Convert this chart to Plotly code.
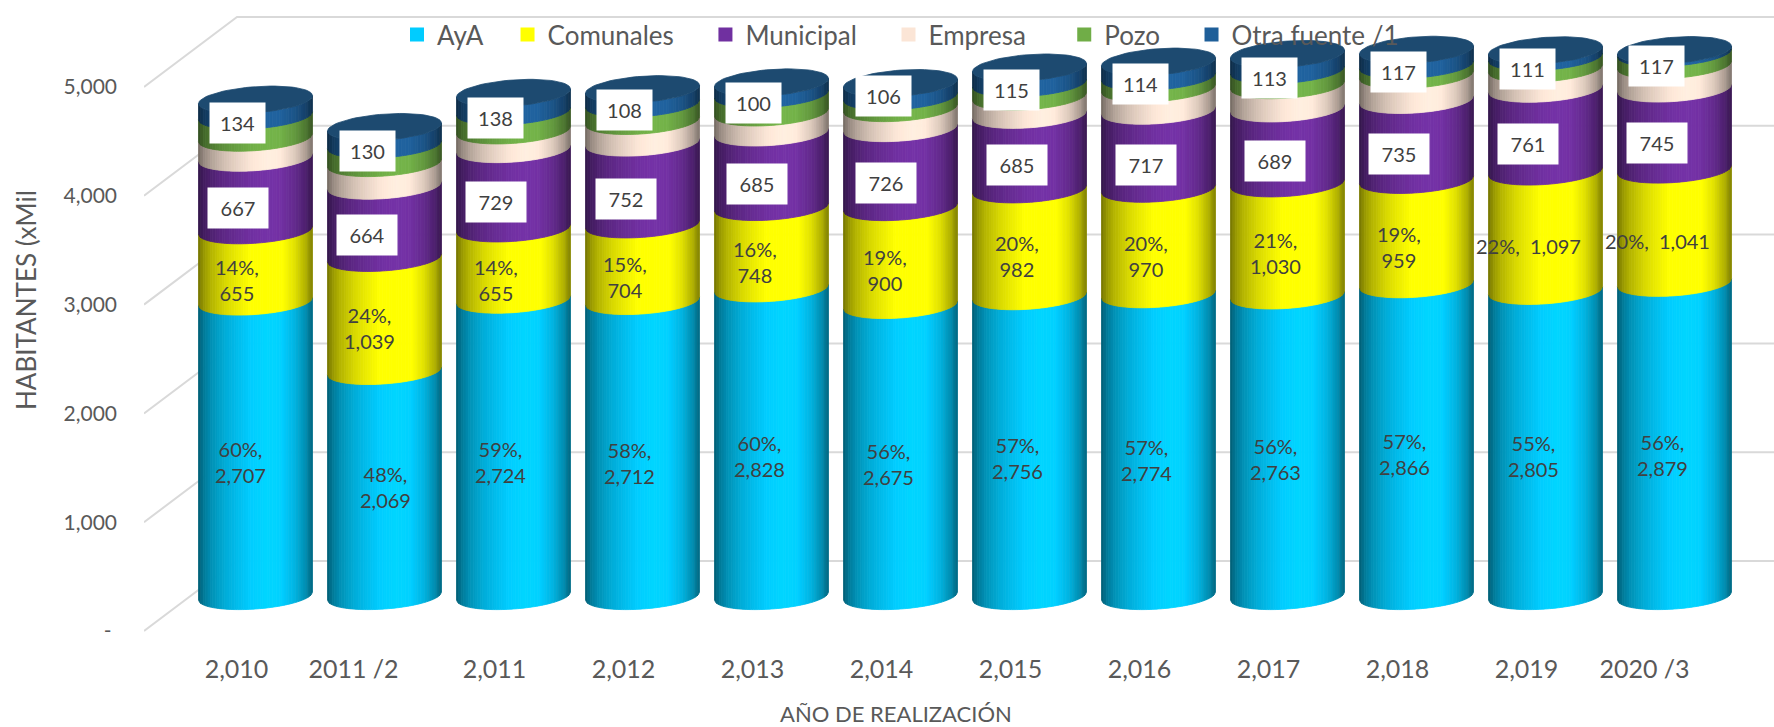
import numpy as np
import plotly.graph_objects as go

categories = ["2,010", "2011 /2", "2,011", "2,012", "2,013", "2,014", "2,015", "2,016", "2,017", "2,018", "2,019", "2020 /3"]
aya = [2707, 2069, 2724, 2712, 2828, 2675, 2756, 2774, 2763, 2866, 2805, 2879]
comunales = [655, 1039, 655, 704, 748, 900, 982, 970, 1030, 959, 1097, 1041]
municipal = [667, 664, 729, 752, 685, 726, 685, 717, 689, 735, 761, 745]
empresa = [184, 208, 172, 199, 184, 184, 168, 205, 214, 230, 184, 214]
pozo = [202, 168, 175, 159, 168, 107, 122, 107, 138, 92, 107, 113]
otra = [147, 162, 169, 132, 107, 122, 144, 138, 147, 138, 61, 25]
pct_aya = [60, 48, 59, 58, 60, 56, 57, 57, 56, 57, 55, 56]
pct_comunales = [14, 24, 14, 15, 16, 19, 20, 20, 21, 19, 22, 20]
pozo_labels = [134, 130, 138, 108, 100, 106, 115, 114, 113, 117, 111, 117]
y_ticks = [0, 1000, 2000, 3000, 4000, 5000]

series = [("AyA", aya, "#00CCFF"), ("Comunales", comunales, "#FFFF00"), ("Municipal", municipal, "#7030A0"),
          ("Empresa", empresa, "#FBE5D6"), ("Pozo", pozo, "#70AD47"), ("Otra fuente /1", otra, "#1F5F99")]
legend_names = ["AyA" + "\u00a0" * 3, "Comunales" + "\u00a0" * 4, "Municipal" + "\u00a0" * 4,
                "Empresa" + "\u00a0" * 5, "Pozo" + "\u00a0" * 4, "Otra fuente /1"]

# page geometry
W, H = 1774, 727
PL, PT, PB = 144, 0, 640           # plot rectangle in page pixels
X0, DX = 255.5, 129.0              # first bar centre, bar spacing
Y0, DY = 631.0, 0.1088             # value 0 on the front edge, pixels per unit
BAR_HALF = 57.0
ELL_B, ELL_S = 13.0, 4.0           # ellipse half height and tilt
DEPTH_X, DEPTH_Y = 93.0, 70.0      # front-to-back shift of the walls
BAR_LIFT = 35.0 / DY               # bars stand half way back
NSTRIP = 48

def px_x(p): return (p - X0) / DX
def px_y(p): return (Y0 - p) / DY
def paper_x(p): return (p - PL) / (W - PL)
def paper_y(p): return 1 - (p - PT) / (PB - PT)

SHADE_U = [0, .05, .12, .25, .45, .6, .72, .85, .95, 1]
SHADE_V = [.45, .60, .72, .86, 1.0, 1.05, 1.03, .88, .68, .50]

def shade(color, u):
    f = np.interp(u, SHADE_U, SHADE_V)
    r, g, b = int(color[1:3], 16), int(color[3:5], 16), int(color[5:7], 16)
    return "rgb(%d,%d,%d)" % (min(255, r * f), min(255, g * f), min(255, b * f))

def front(s):
    return (ELL_S * s - ELL_B * np.sqrt(np.clip(1 - s * s, 0, 1))) / DY

fig = go.Figure()

# back wall and floor lines
gx, gy = [], []
for v in y_ticks:
    gx += [px_x(PL), px_x(PL + DEPTH_X), px_x(W), None]
    gy += [v, v + DEPTH_Y / DY, v + DEPTH_Y / DY, None]
fig.add_trace(go.Scatter(x=gx, y=gy, mode="lines", line=dict(color="#D9D9D9", width=2),
                         hoverinfo="skip", showlegend=False))

# cylinders: each series is drawn as vertical strips sharing one shade
edges = np.linspace(-1, 1, NSTRIP + 1)
cum = np.zeros(len(categories))
for name, values, color in series:
    top = cum + np.array(values, dtype=float)
    for k in range(NSTRIP):
        s = np.linspace(edges[k], edges[k + 1], 3)
        xs, ys = [], []
        for i in range(len(categories)):
            xx = i + s * BAR_HALF / DX
            yu = BAR_LIFT + top[i] + front(s)
            yl = BAR_LIFT + cum[i] + front(s)
            xs += list(xx) + list(xx[::-1]) + [xx[0], None]
            ys += list(yu) + list(yl[::-1]) + [yu[0], None]
        c = shade(color, (k + .5) / NSTRIP)
        fig.add_trace(go.Scatter(x=xs, y=ys, mode="lines", fill="toself", fillcolor=c,
                                 line=dict(color=c, width=0.8), hoverinfo="skip", showlegend=False))
    cum = top

# top caps
t = np.linspace(0, 2 * np.pi, 73)
cx, cy = [], []
for i in range(len(categories)):
    cx += list(i + np.cos(t) * BAR_HALF / DX) + [None]
    cy += list(BAR_LIFT + cum[i] + (ELL_S * np.cos(t) + ELL_B * np.sin(t)) / DY) + [None]
fig.add_trace(go.Scatter(x=cx, y=cy, mode="lines", fill="toself", fillcolor="#1D4A70",
                         line=dict(color="#1D4A70", width=0.8), hoverinfo="skip", showlegend=False))

# legend entries
for (name, values, color), lname in zip(series, legend_names):
    fig.add_trace(go.Scatter(x=[None], y=[None], mode="markers", name=lname,
                             marker=dict(symbol="square", size=16, color=color, line=dict(color=color, width=2))))

# data labels (page pixel centres, hand placed in the source chart)
aya_pos = [(240, 462), (385, 487), (500, 462), (629, 463), (759, 456), (888, 464),
           (1017, 458), (1146, 460), (1275, 459), (1404, 454), (1533, 456), (1662, 455)]
com_pos = [(237, 280), (369, 328), (496, 280), (625, 277), (755, 262), (885, 270),
           (1017, 256), (1146, 256), (1275, 253), (1399, 247), (1528, 246), (1657, 241)]
mun_pos = [(238, 208), (367, 235), (496, 202), (626, 199), (757, 184), (886, 183),
           (1017, 165), (1146, 165), (1275, 161), (1399, 154), (1528, 144), (1657, 143)]
poz_pos = [(237, 123), (367, 151), (495, 118), (624, 110), (753, 103), (883, 96),
           (1011, 90), (1140, 84), (1269, 78), (1398, 72), (1527, 69), (1656, 66)]
TXT = dict(family="Lato", size=20, color="#404040")
ann = []
for i in range(len(categories)):
    ann.append(dict(x=px_x(aya_pos[i][0]), y=px_y(aya_pos[i][1]), xref="x", yref="y", showarrow=False,
                    text=f"{pct_aya[i]}%,<br>{aya[i]:,}", font=TXT))
    sep = "\u00a0\u00a0" if i >= 10 else "<br>"
    ann.append(dict(x=px_x(com_pos[i][0]), y=px_y(com_pos[i][1]), xref="x", yref="y", showarrow=False,
                    text=f"{pct_comunales[i]}%,{sep}{comunales[i]:,}", font=TXT))
    ann.append(dict(x=px_x(mun_pos[i][0]), y=px_y(mun_pos[i][1]), xref="x", yref="y", showarrow=False,
                    text=str(municipal[i]), font=TXT, bgcolor="#FFFFFF", width=58, height=38))
    ann.append(dict(x=px_x(poz_pos[i][0]), y=px_y(poz_pos[i][1]), xref="x", yref="y", showarrow=False,
                    text=str(pozo_labels[i]), font=TXT, bgcolor="#FFFFFF", width=53, height=38))
ann.append(dict(x=paper_x(896), y=paper_y(713), xref="paper", yref="paper", showarrow=False, xanchor="center",
                yanchor="middle", text="AÑO DE REALIZACIÓN", font=dict(family="Lato", size=22, color="#595959")))
ann.append(dict(x=paper_x(26), y=paper_y(300), xref="paper", yref="paper", showarrow=False, textangle=-90,
                xanchor="center", yanchor="middle", text="HABITANTES (xMil", font=dict(family="Lato", size=26, color="#595959")))

tick_shift = [-31 if c.endswith("/2") else -30 if c.endswith("/3") else -19 for c in categories]
fig.update_layout(
    width=W, height=H, autosize=False, paper_bgcolor="white", plot_bgcolor="white",
    margin=dict(l=PL, r=0, t=PT, b=H - PB, pad=0),
    font=dict(family="Lato", color="#595959"),
    xaxis=dict(range=[px_x(PL), px_x(W)], showgrid=False, zeroline=False, showline=False, ticks="",
               tickvals=[i + s / DX for i, s in enumerate(tick_shift)], ticktext=categories,
               tickfont=dict(family="Lato", size=25, color="#595959"), ticklabelstandoff=12, automargin=False),
    yaxis=dict(range=[px_y(PB), px_y(PT)], showgrid=False, zeroline=False, showline=False, ticks="",
               tickvals=y_ticks, ticktext=["-\u00a0"] + [f"{v:,}" for v in y_ticks[1:]],
               tickfont=dict(family="Lato", size=21, color="#595959"), ticklabelstandoff=26, automargin=False),
    legend=dict(orientation="h", x=paper_x(397), y=paper_y(11),
                xanchor="left", yanchor="top", bgcolor="rgba(0,0,0,0)", itemsizing="constant",
                itemclick=False, font=dict(family="Lato", size=26, color="#595959"), traceorder="normal",
                tracegroupgap=0),
    annotations=ann,
)
fig.write_html("out.html", config=dict(displayModeBar=False),
               post_script="document.body.style.margin='0';document.documentElement.style.overflow='hidden';")
